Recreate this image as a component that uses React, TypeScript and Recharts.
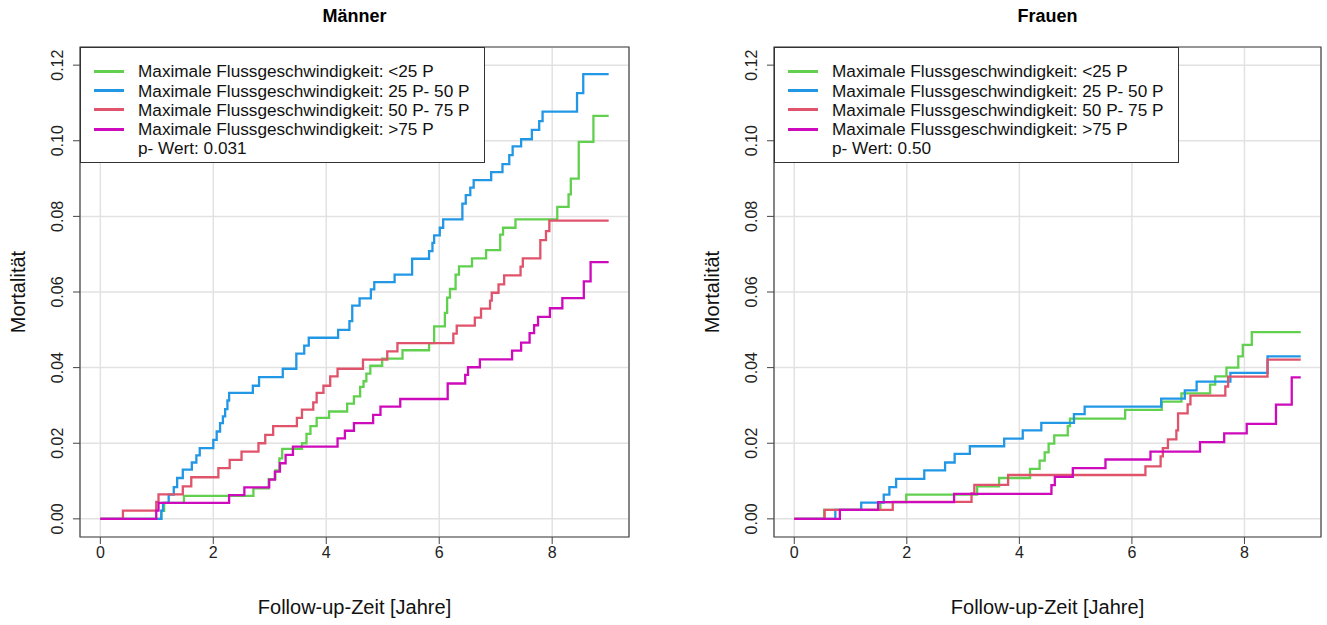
import React from 'react';
import { LineChart, Line, XAxis, YAxis, CartesianGrid, ReferenceArea } from 'recharts';

type Pt = [number, number];

const seriesNames = [
  'Maximale Flussgeschwindigkeit: <25 P',
  'Maximale Flussgeschwindigkeit: 25 P- 50 P',
  'Maximale Flussgeschwindigkeit: 50 P- 75 P',
  'Maximale Flussgeschwindigkeit: >75 P',
];
const seriesColors = ['#61D04F', '#2297E6', '#DF536B', '#CD0BBC'];
const xTicks = [0, 2, 4, 6, 8];
const yTicks = [0, 0.02, 0.04, 0.06, 0.08, 0.1, 0.12];
const panelTitles = ['Männer', 'Frauen'];
const pValues = ['p- Wert: 0.031', 'p- Wert: 0.50'];
const xLabel = 'Follow-up-Zeit [Jahre]';
const yLabel = 'Mortalität';

const maennerLt25: Pt[] = [
  [0, 0], [1.08, 0.0021], [1.13, 0.0042], [1.48, 0.0061], [2.71, 0.0081], [2.98, 0.0105], [3.10, 0.0128],
  [3.17, 0.016], [3.22, 0.0185], [3.57, 0.02], [3.65, 0.0225], [3.72, 0.0245], [3.83, 0.0267],
  [4.05, 0.0284], [4.37, 0.0305], [4.49, 0.0324], [4.6, 0.0349], [4.66, 0.0364], [4.71, 0.0384],
  [4.78, 0.0405], [4.99, 0.0424], [5.35, 0.0446], [5.82, 0.0465], [5.91, 0.0509], [6.1, 0.0545],
  [6.14, 0.0585], [6.19, 0.0608], [6.29, 0.0646], [6.35, 0.0668], [6.58, 0.0689], [6.83, 0.0711],
  [7.08, 0.0752], [7.13, 0.077], [7.35, 0.0792], [8.09, 0.0825], [8.29, 0.0858], [8.33, 0.09],
  [8.47, 0.0997], [8.73, 0.1066], [9.0, 0.1066],
];
const maenner25bis50: Pt[] = [
  [0, 0], [1.08, 0.0022], [1.11, 0.0042], [1.21, 0.0064], [1.3, 0.0084], [1.36, 0.0108], [1.46, 0.013],
  [1.62, 0.0149], [1.7, 0.0168], [1.76, 0.0187], [2.0, 0.0209], [2.06, 0.0231], [2.12, 0.0253],
  [2.17, 0.0271], [2.21, 0.029], [2.25, 0.0313], [2.28, 0.0333], [2.7, 0.0352], [2.81, 0.0375],
  [3.23, 0.0397], [3.47, 0.0437], [3.61, 0.0458], [3.69, 0.0479], [4.21, 0.05], [4.41, 0.0523],
  [4.46, 0.0564], [4.59, 0.0583], [4.79, 0.0607], [4.85, 0.0626], [5.21, 0.0646], [5.52, 0.0688],
  [5.82, 0.0708], [5.88, 0.073], [5.91, 0.075], [6.01, 0.077], [6.07, 0.0792], [6.41, 0.0834],
  [6.47, 0.0856], [6.55, 0.0876], [6.61, 0.0896], [6.92, 0.0917], [7.12, 0.0938], [7.24, 0.0962],
  [7.3, 0.0985], [7.45, 0.1004], [7.64, 0.1029], [7.77, 0.1052], [7.83, 0.1077], [8.44, 0.1126],
  [8.55, 0.1176], [9.0, 0.1176],
];
const maenner50bis75: Pt[] = [
  [0, 0], [0.4, 0.0022], [0.99, 0.0045], [1.03, 0.0065], [1.46, 0.0086], [1.61, 0.011], [2.09, 0.0134],
  [2.29, 0.0156], [2.5, 0.0178], [2.8, 0.02], [2.92, 0.0222], [3.06, 0.0245], [3.48, 0.0267],
  [3.57, 0.0289], [3.77, 0.0308], [3.83, 0.0333], [3.95, 0.0352], [4.07, 0.0377], [4.2, 0.0397],
  [4.65, 0.0421], [5.08, 0.0443], [5.26, 0.0465], [6.25, 0.049], [6.31, 0.0511], [6.63, 0.0532],
  [6.74, 0.0556], [6.9, 0.0577], [6.93, 0.0598], [7.05, 0.062], [7.15, 0.0644], [7.44, 0.0667],
  [7.48, 0.0689], [7.79, 0.0737], [7.89, 0.0761], [7.95, 0.0789], [9.0, 0.0789],
];
const maennerGt75: Pt[] = [
  [0, 0], [0.99, 0.0022], [1.03, 0.0042], [2.28, 0.0063], [2.55, 0.0083], [2.99, 0.0104], [3.09, 0.0125],
  [3.18, 0.0147], [3.28, 0.0169], [3.41, 0.0191], [4.2, 0.0213], [4.33, 0.0233], [4.49, 0.0253],
  [4.83, 0.0275], [4.96, 0.0297], [5.31, 0.0317], [6.15, 0.0358], [6.46, 0.0381], [6.51, 0.0401],
  [6.72, 0.0422], [7.29, 0.0445], [7.45, 0.0466], [7.6, 0.0491], [7.68, 0.0512], [7.75, 0.0534],
  [7.96, 0.0557], [8.18, 0.0584], [8.56, 0.0628], [8.68, 0.0679], [9.0, 0.0679],
];

const frauenLt25: Pt[] = [
  [0, 0], [0.53, 0.0024], [1.53, 0.0044], [1.99, 0.0064], [3.25, 0.0086], [3.64, 0.0108], [4.19, 0.0132],
  [4.36, 0.0154], [4.45, 0.0176], [4.52, 0.0199], [4.62, 0.0221], [4.86, 0.0245], [4.9, 0.0265],
  [5.88, 0.0288], [6.53, 0.031], [6.88, 0.0332], [7.39, 0.0355], [7.48, 0.0377], [7.68, 0.04],
  [7.89, 0.043], [7.97, 0.046], [8.13, 0.0494], [9.0, 0.0494],
];
const frauen25bis50: Pt[] = [
  [0, 0], [0.73, 0.0024], [1.19, 0.0043], [1.59, 0.0064], [1.69, 0.0084], [1.81, 0.0106], [2.31, 0.0128],
  [2.68, 0.0149], [2.85, 0.0172], [3.12, 0.0192], [3.73, 0.0212], [4.06, 0.0234], [4.39, 0.0254],
  [4.97, 0.0277], [5.16, 0.0297], [6.52, 0.0318], [6.94, 0.034], [7.15, 0.0363], [7.75, 0.0386],
  [8.41, 0.043], [9.0, 0.043],
];
const frauen50bis75: Pt[] = [
  [0, 0], [0.54, 0.0024], [1.75, 0.0045], [3.15, 0.0067], [3.2, 0.009], [3.8, 0.0116], [6.24, 0.0139],
  [6.51, 0.0165], [6.55, 0.0187], [6.64, 0.021], [6.79, 0.0234], [6.82, 0.0279], [6.99, 0.0303],
  [7.04, 0.0326], [7.66, 0.035], [7.71, 0.0376], [8.41, 0.0421], [9.0, 0.0421],
];
const frauenGt75: Pt[] = [
  [0, 0], [0.81, 0.0024], [1.49, 0.0044], [2.84, 0.0066], [4.57, 0.0089], [4.63, 0.0111], [4.95, 0.0134],
  [5.53, 0.0157], [6.33, 0.0178], [7.21, 0.0203], [7.64, 0.0226], [8.04, 0.0251], [8.56, 0.0302],
  [8.84, 0.0374], [9.0, 0.0374],
];

const maennerSeries = [maennerLt25, maenner25bis50, maenner50bis75, maennerGt75];
const frauenSeries = [frauenLt25, frauen25bis50, frauen50bis75, frauenGt75];

const FONT = "'Liberation Sans', Arial, Helvetica, sans-serif";
const X_DOMAIN: [number, number] = [-0.36, 9.36];
const Y_DOMAIN: [number, number] = [-0.0048, 0.1248];

const YTick = (props: any) => {
  const { x, y, payload } = props;
  const tx = x - 10;
  return (
    <text x={tx} y={y} transform={`rotate(-90 ${tx} ${y})`} textAnchor="middle" fontSize={16} fill="#222" fontFamily={FONT}>
      {Number(payload.value).toFixed(2)}
    </text>
  );
};

type PanelProps = {
  left: number;
  width: number;
  plotLeft: number;
  plotRight: number;
  title: string;
  series: Pt[][];
  pValue: string;
};

function Panel({ left, width, plotLeft, plotRight, title, series, pValue }: PanelProps) {
  const H = 625;
  const top = 47;
  const bottom = 537;
  const yAxisW = 60;
  const xAxisH = 60;
  const cx = (plotLeft + plotRight) / 2;
  const cy = (top + bottom) / 2;
  const rowY = [23, 42.5, 61.5, 81, 100];
  return (
    <div style={{ position: 'absolute', left, top: 0, width, height: H, fontFamily: FONT }}>
      <LineChart
        width={width}
        height={H}
        margin={{ top, right: width - plotRight, bottom: H - bottom - xAxisH, left: plotLeft - yAxisW }}
      >
        <CartesianGrid stroke="#e2e2e2" strokeWidth={1.5} />
        <XAxis
          type="number"
          dataKey="t"
          domain={X_DOMAIN}
          ticks={xTicks}
          allowDataOverflow
          axisLine={false}
          tickSize={7}
          tickMargin={3}
          height={xAxisH}
          interval={0}
          tick={{ fontSize: 16, fill: '#222', fontFamily: FONT }}
          tickLine={{ stroke: '#444' }}
        />
        <YAxis
          type="number"
          domain={Y_DOMAIN}
          ticks={yTicks}
          allowDataOverflow
          axisLine={false}
          tickSize={7}
          tickMargin={0}
          width={yAxisW}
          interval={0}
          tick={<YTick />}
          tickLine={{ stroke: '#444' }}
        />
        <ReferenceArea
          x1={X_DOMAIN[0]}
          x2={X_DOMAIN[1]}
          y1={Y_DOMAIN[0]}
          y2={Y_DOMAIN[1]}
          fill="none"
          fillOpacity={0}
          stroke="#444"
          strokeWidth={1.2}
          ifOverflow="visible"
        />
        {series.map((s, i) => (
          <Line
            key={i}
            data={s.map(([t, v]) => ({ t, v }))}
            dataKey="v"
            type="stepAfter"
            stroke={seriesColors[i]}
            strokeWidth={2.3}
            dot={false}
            activeDot={false}
            isAnimationActive={false}
          />
        ))}
      </LineChart>

      <div style={{ position: 'absolute', left: cx - 150, width: 300, top: 4, textAlign: 'center', fontWeight: 'bold', fontSize: 18, lineHeight: '24px', color: '#000' }}>
        {title}
      </div>
      <div style={{ position: 'absolute', left: cx - 200, width: 400, top: 594, textAlign: 'center', fontSize: 20, lineHeight: '26px', color: '#111' }}>
        {xLabel}
      </div>
      <div style={{ position: 'absolute', left: 18 - 100, top: cy - 13, width: 200, textAlign: 'center', fontSize: 20, lineHeight: '26px', transform: 'rotate(-90deg)', color: '#111' }}>
        {yLabel}
      </div>

      <div style={{ position: 'absolute', left: plotLeft, top, width: 405, height: 116, border: '1px solid #333', background: '#fff', boxSizing: 'border-box' }}>
        {seriesNames.map((n, i) => (
          <React.Fragment key={i}>
            <div style={{ position: 'absolute', left: 13, top: rowY[i] - 1.5, width: 30, height: 3, background: seriesColors[i] }} />
            <div style={{ position: 'absolute', left: 57, top: rowY[i] - 11, fontSize: 17.2, lineHeight: '22px', whiteSpace: 'nowrap', color: '#111' }}>{n}</div>
          </React.Fragment>
        ))}
        <div style={{ position: 'absolute', left: 57, top: rowY[4] - 11, fontSize: 17.2, lineHeight: '22px', whiteSpace: 'nowrap', color: '#111' }}>{pValue}</div>
      </div>
    </div>
  );
}

export default function App() {
  return (
    <div style={{ position: 'absolute', left: 0, top: 0, width: 1327, height: 625, background: '#fff', overflow: 'hidden' }}>
      <Panel left={0} width={663} plotLeft={80} plotRight={629} title={panelTitles[0]} series={maennerSeries} pValue={pValues[0]} />
      <Panel left={694} width={633} plotLeft={80} plotRight={627} title={panelTitles[1]} series={frauenSeries} pValue={pValues[1]} />
    </div>
  );
}
